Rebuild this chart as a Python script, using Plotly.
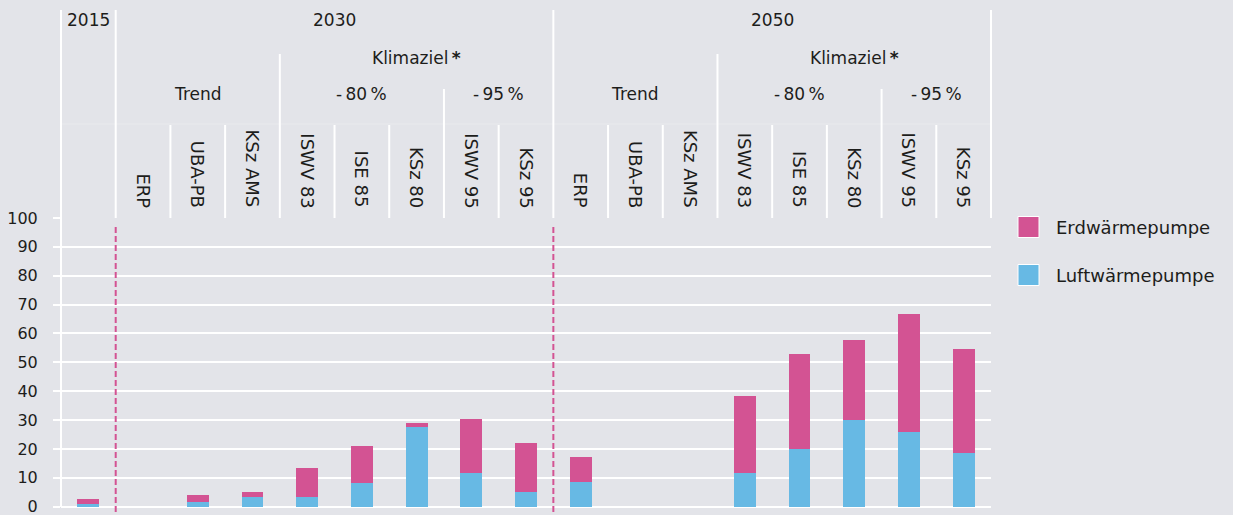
import plotly.graph_objects as go

# ---------------- data ----------------
years = ["2015"] + ["2030"] * 8 + ["2050"] * 8
scenarios = ["", "ERP", "UBA-PB", "KSz AMS", "ISWV 83", "ISE 85", "KSz 80", "ISWV 95", "KSz 95",
             "ERP", "UBA-PB", "KSz AMS", "ISWV 83", "ISE 85", "KSz 80", "ISWV 95", "KSz 95"]
luft = [1.1, 0, 1.7, 3.5, 3.5, 8.3, 27.7, 11.7, 5.1, 8.4, 0, 0, 11.8, 20.1, 30.0, 25.7, 18.6]
erd = [1.6, 0, 2.2, 1.5, 9.9, 12.8, 1.3, 18.8, 17.1, 8.8, 0, 0, 26.6, 32.7, 27.9, 41.1, 36.0]
series_names = ["Luftwärmepumpe", "Erdwärmepumpe"]
y_ticks = [0, 10, 20, 30, 40, 50, 60, 70, 80, 90, 100]

categories = [f"{y} {s}".strip() for y, s in zip(years, scenarios)]

# ---------------- style ----------------
BG = "#e3e4e9"
PINK = "#d35393"
BLUE = "#67b9e4"
TXT = "#1d1d1b"
FONT = "DejaVu Sans"
FS = 17

W, H = 1233, 515
L, R, T, B = 61, 242, 218, 0
N = len(categories)
plot_h = H - T - B


def fx(c):
    """category index -> x-domain fraction"""
    return (c + 0.5) / N


def py(p):
    """pixel row -> paper y"""
    return (H - B - p) / plot_h


def pxx(p):
    """pixel column -> paper x"""
    return (p - L) / (W - L - R)


fig = go.Figure()
fig.add_trace(go.Bar(x=categories, y=luft, name=series_names[0], marker=dict(color=BLUE, line=dict(width=0)),
                     showlegend=False))
fig.add_trace(go.Bar(x=categories, y=erd, name=series_names[1], marker=dict(color=PINK, line=dict(width=0)),
                     showlegend=False))

shapes = []
ann = []


def vline(c, top, bottom=218, color="white", width=2, dash=None):
    shapes.append(dict(type="line", xref="x domain", yref="paper", x0=fx(c), x1=fx(c),
                       y0=py(top), y1=py(bottom), line=dict(color=color, width=width, dash=dash)))


# y-axis line
shapes.append(dict(type="line", xref="paper", yref="paper", x0=0, x1=0, y0=py(10), y1=py(507),
                   line=dict(color="white", width=2)))
# full-height year separators
for c in [0.5, 8.5, N - 0.5]:
    vline(c, 10)
# Klimaziel separators
for c in [3.5, 11.5]:
    vline(c, 54)
# -80 / -95 separators
for c in [6.5, 14.5]:
    vline(c, 89)
# scenario separators
for c in [1.5, 2.5, 4.5, 5.5, 7.5, 9.5, 10.5, 12.5, 13.5, 15.5]:
    vline(c, 125)
# faint horizontal line
shapes.append(dict(type="line", xref="paper", yref="paper", x0=0, x1=1, y0=py(124), y1=py(124),
                   line=dict(color="rgba(255,255,255,0.25)", width=1)))
# dashed period separators
for c in [0.5, 8.5]:
    shapes.append(dict(type="line", xref="x domain", yref="paper", x0=fx(c), x1=fx(c),
                       y0=py(227), y1=py(515), line=dict(color=PINK, width=2, dash="6px,3px")))


def text(x, y, s, xref="x domain", xanchor="center", yanchor="middle", angle=0, size=FS):
    ann.append(dict(x=x, y=y, xref=xref, yref="paper", text=s, showarrow=False, xanchor=xanchor,
                    yanchor=yanchor, textangle=angle, font=dict(family=FONT, size=size, color=TXT)))


text(fx(0), py(20), "2015")
text(fx(4.5), py(20), "2030")
text(fx(12.5), py(20), "2050")
for c in [6, 14]:
    text(fx(c), py(58), "Klimaziel\u2009<b>*</b>")
for c in [2, 10]:
    text(fx(c), py(94), "Trend")
for c in [5, 13]:
    text(fx(c), py(94), "-\u200980\u2009%")
for c in [7.5, 15.5]:
    text(fx(c), py(94), "-\u200995\u2009%")

for i, s in enumerate(scenarios):
    if s:
        text(fx(i), py(210), s, yanchor="bottom", angle=90, size=18)

# legend
for name, color, yc in [(series_names[1], PINK, 227), (series_names[0], BLUE, 275)]:
    shapes.append(dict(type="rect", xref="paper", yref="paper", x0=pxx(1018), x1=pxx(1039),
                       y0=py(yc - 10.5), y1=py(yc + 10.5), fillcolor=color,
                       line=dict(color="white", width=1)))
    text(pxx(1054), py(yc), name, xref="paper", xanchor="left", size=18)

fig.update_layout(
    width=W, height=H,
    margin=dict(l=L, r=R, t=T, b=B, pad=0),
    paper_bgcolor=BG, plot_bgcolor=BG,
    barmode="stack", bargap=0.6,
    shapes=shapes, annotations=ann,
    font=dict(family=FONT, size=FS, color=TXT),
    xaxis=dict(showticklabels=False, showgrid=False, zeroline=False, showline=False, ticks="",
               range=[-0.5, N - 0.5]),
    yaxis=dict(range=[-2.88, 100], tickvals=y_ticks, showgrid=True, gridcolor="white", gridwidth=2,
               zeroline=False, showline=False, ticks="outside", ticklen=7, tickcolor="white", tickwidth=2,
               tickfont=dict(family=FONT, size=16, color=TXT), ticklabelstandoff=12,
               ticklabeloverflow="allow"),
)

fig.write_html("out.html", config={"displayModeBar": False},
               post_script="document.body.style.margin='0px';document.body.style.overflow='hidden';")
